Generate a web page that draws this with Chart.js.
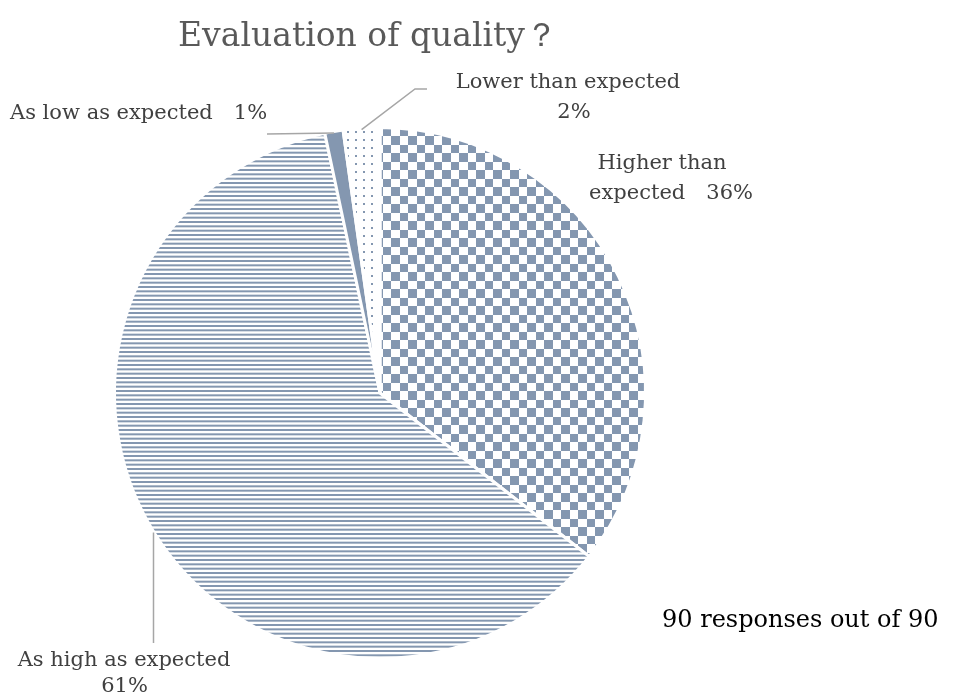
<!DOCTYPE html>
<html>
<head>
<meta charset="utf-8">
<title>Evaluation of quality？</title>
<script src="https://cdn.jsdelivr.net/npm/chart.js@4/dist/chart.umd.min.js"></script>
<style>
  html, body { margin:0; padding:0; background:#fff; }
  #wrap { width:959px; height:695px; position:relative; }
</style>
</head>
<body>
<div id="wrap"><canvas id="pie"></canvas></div>
<script>
// data
const categories = ['Higher than expected', 'As high as expected', 'As low as expected', 'Lower than expected'];
const responses = [32, 55, 1, 2];
const totalAsked = 90;
const chartTitle = 'Evaluation of quality？';

const total = responses.reduce((a,b)=>a+b, 0);
const pct = responses.map(v => Math.round(v / total * 100) + '%');
const note = `${total} responses out of ${totalAsked}`;

// fills
const BLUE = '#8497B0';
function tile(w, h, draw){
  const c = document.createElement('canvas'); c.width = w; c.height = h;
  const g = c.getContext('2d');
  g.fillStyle = '#fff'; g.fillRect(0,0,w,h);
  g.fillStyle = BLUE; draw(g);
  return g.createPattern(c, 'repeat');
}
const checker = tile(17, 17, g => { g.fillRect(0,0,9,9); g.fillRect(9,9,8,8); });
const stripes = tile(4, 13, g => { g.fillRect(0,0,4,2); g.fillRect(0,4.33,4,2); g.fillRect(0,8.67,4,2); });
const dots = tile(8, 8, g => { g.fillRect(3,3,2,2); });
const fills = [checker, stripes, BLUE, dots];

// label placement (text lines: [text, x, baselineY, align])
const labelLines = [
  [['Higher than', 662, 169], ['expected　' + pct[0], 671, 199]],
  [[categories[1], 124, 666], [pct[1], 124.5, 692]],
  [[categories[2] + '　' + pct[2], 10, 119, 'left']],
  [[categories[3], 568, 88], [pct[3], 574, 118]]
];

const FONT = '"DejaVu Serif", "Liberation Serif", serif';

const textPlugin = {
  id: 'texts',
  afterDraw(chart){
    const ctx = chart.ctx;
    const meta = chart.getDatasetMeta(0);
    const edge = i => {
      const a = meta.data[i].getProps(['x','y','startAngle','endAngle','outerRadius'], true);
      const m = (a.startAngle + a.endAngle) / 2, r = a.outerRadius - 1.5;
      return [a.x + Math.cos(m) * r, a.y + Math.sin(m) * r];
    };
    ctx.save();
    // leader lines
    ctx.strokeStyle = '#A6A6A6'; ctx.lineWidth = 1.5;
    let p = edge(2);
    ctx.beginPath(); ctx.moveTo(267, 134); ctx.lineTo(p[0], p[1]); ctx.stroke();
    p = edge(3);
    ctx.beginPath(); ctx.moveTo(p[0], p[1]); ctx.lineTo(415, 89); ctx.lineTo(427, 89); ctx.stroke();
    const a1 = meta.data[1].getProps(['x','y','outerRadius'], true);
    const lx = 153.5;
    const ly = a1.y + Math.sqrt(a1.outerRadius ** 2 - (lx - a1.x) ** 2) + 1;
    ctx.beginPath(); ctx.moveTo(lx, 643); ctx.lineTo(lx, ly); ctx.stroke();

    // title
    ctx.fillStyle = '#595959';
    ctx.font = '33px ' + FONT;
    ctx.textAlign = 'center'; ctx.textBaseline = 'alphabetic';
    ctx.fillText(chartTitle, 368, 46);

    // data labels
    ctx.fillStyle = '#404040';
    ctx.font = '21px ' + FONT;
    labelLines.forEach(lines => lines.forEach(([t, x, y, al]) => {
      ctx.textAlign = al || 'center';
      ctx.fillText(t, x, y);
    }));

    // note
    ctx.fillStyle = '#000';
    ctx.font = '24px ' + FONT;
    ctx.textAlign = 'left';
    ctx.fillText(note, 662, 627);
    ctx.restore();
  }
};

new Chart(document.getElementById('pie'), {
  type: 'pie',
  data: {
    labels: categories,
    datasets: [{
      data: responses,
      backgroundColor: fills,
      borderColor: '#fff',
      borderWidth: 3
    }]
  },
  options: {
    responsive: true,
    maintainAspectRatio: false,
    animation: false,
    radius: 265.5,
    layout: { padding: { left: 110, right: 309, top: 123, bottom: 32 } },
    plugins: { legend: { display: false }, tooltip: { enabled: false }, title: { display: false } }
  },
  plugins: [textPlugin]
});
</script>
</body>
</html>
